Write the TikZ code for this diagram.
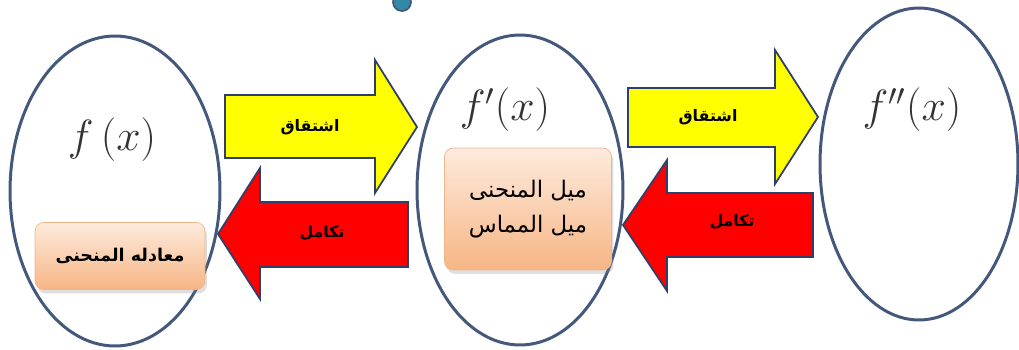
\documentclass[tikz,border=0pt]{standalone}
\usepackage{fontspec}
\usetikzlibrary{shadows}
\TeXXeTstate=1
\newfontfamily\arabicfont[Script=Arabic]{DejaVu Sans}
\definecolor{ringblue}{HTML}{44587C}
\definecolor{arrowedge}{HTML}{2F3E6B}
\definecolor{peachtop}{HTML}{FDEBDD}
\definecolor{peachbot}{HTML}{F7B585}
\definecolor{peachedge}{HTML}{F0B48A}
\definecolor{derivyellow}{HTML}{FFFF00}
\definecolor{integred}{HTML}{FF0000}
\tikzset{
	ring/.style={ellipse, draw=ringblue, line width=1.7pt, inner sep=0pt},
	funclabel/.style={text=black!80, font=\fontsize{26}{30}\selectfont},
	derivarrow/.style={fill=derivyellow, draw=arrowedge, line width=1pt, line join=miter},
	integarrow/.style={fill=integred, draw=arrowedge, line width=1pt, line join=miter},
	arrowtext/.style={font=\arabicfont\bfseries\fontsize{9}{11}\selectfont, text=black},
	notebox/.style={rounded corners=5pt, draw=peachedge, line width=0.4pt,
		top color=peachtop, bottom color=peachbot, align=center,
		drop shadow={opacity=0.25, shadow xshift=0.04cm, shadow yshift=-0.08cm}},
}
\usetikzlibrary{shapes.geometric}
\begin{document}
\begin{tikzpicture}[x=0.02cm,y=-0.02cm]
	\useasboundingbox (0,0) rectangle (1019,349);
	\clip (0,0) rectangle (1019,349);
	% partly hidden dot at the top
	\filldraw[fill=ringblue!70!cyan, draw=ringblue, line width=1pt] (402,2) circle [radius=0.18cm];
	% the three functions
	\node[ring, minimum width=4.2cm, minimum height=6.2cm] (fx) at (115,191) {};
	\node[ring, minimum width=4.12cm, minimum height=6.2cm] (dfx) at (520,190) {};
	\node[ring, minimum width=3.96cm, minimum height=6.24cm] (ddfx) at (919,164) {};
	\node[funclabel] (lblfx) at (112,140) {$f\,(x)$};
	\node[funclabel] (lbldfx) at (505,110) {$f'(x)$};
	\node[funclabel] (lblddfx) at (912,110) {$f''(x)$};
	% derivative arrows
	\draw[derivarrow] (225,95) -- (375,95) -- (375,60) -- (417,127) -- (375,193) -- (375,158) -- (225,158) -- cycle;
	\draw[derivarrow] (628,88) -- (775,88) -- (775,50) -- (818,117) -- (775,184) -- (775,147) -- (628,147) -- cycle;
	% integral arrows
	\draw[integarrow] (408,202) -- (260,202) -- (260,168) -- (218,234) -- (260,299) -- (260,267) -- (408,267) -- cycle;
	\draw[integarrow] (813,193) -- (667,193) -- (667,160) -- (623,225) -- (667,291) -- (667,257) -- (813,257) -- cycle;
	\node[arrowtext] (derivA) at (310,127) {\beginR اشتقاق\endR};
	\node[arrowtext] (derivB) at (708,117) {\beginR اشتقاق\endR};
	\node[arrowtext] (integA) at (322,233) {\beginR تكامل\endR};
	\node[arrowtext] (integB) at (732,222) {\beginR تكامل\endR};
	% notes in the circles
	\node[notebox, minimum width=3.4cm, minimum height=1.34cm,
		font=\arabicfont\bfseries\fontsize{10}{12}\selectfont] (curveeq) at (120,256) {\beginR معادله المنحنى\endR};
	\node[notebox, minimum width=3.34cm, minimum height=2.44cm,
		font=\arabicfont\fontsize{13}{20}\selectfont] (slope) at (528,209)
		{\beginR ميل المنحنى\endR\\\beginR ميل المماس\endR};
\end{tikzpicture}
\end{document}
